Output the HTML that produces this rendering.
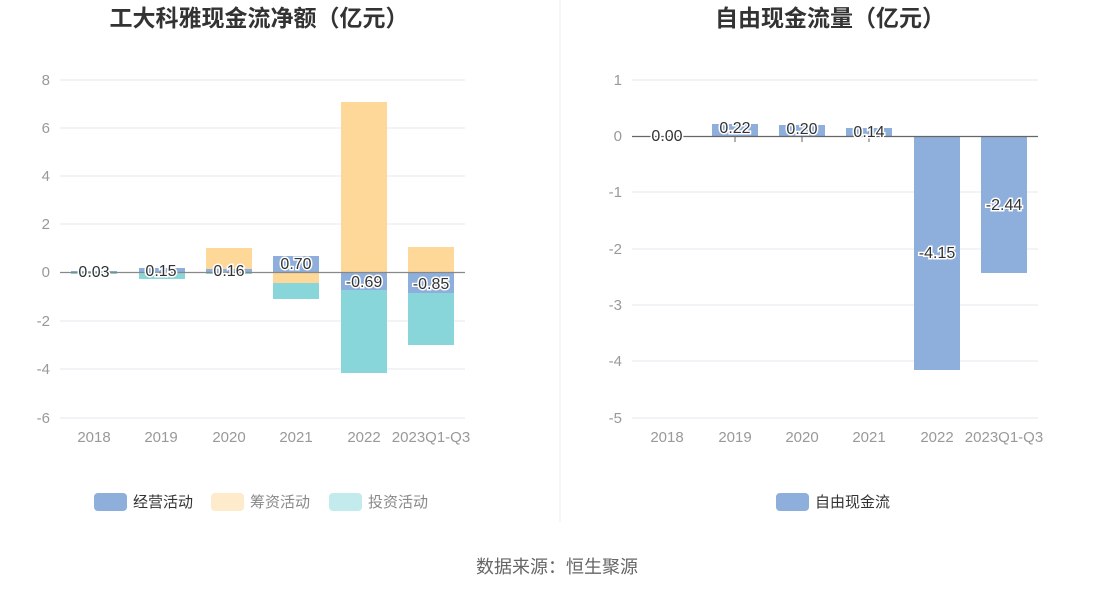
<!DOCTYPE html>
<html><head><meta charset="utf-8"><style>
body{margin:0;background:#fff;}
svg{display:block;font-family:"Liberation Sans","Noto Sans CJK SC",sans-serif;}
.t{font-size:23px;font-weight:bold;fill:#333;}
.ax{font-size:15px;fill:#999;}
.lb{font-size:16px;fill:#333;stroke:#fff;stroke-width:3px;paint-order:stroke;}
.gr{stroke:#e3e7ef;stroke-width:1;}
</style></head><body>
<svg width="1114" height="593" viewBox="0 0 1114 593">
<text class="t" x="259" y="26" text-anchor="middle">工大科雅现金流净额（亿元）</text>
<text class="t" x="830" y="26" text-anchor="middle">自由现金流量（亿元）</text>
<line x1="560" y1="0" x2="560" y2="522" stroke="#eee"/>
<g class="gr">
<line x1="60" y1="80" x2="465" y2="80"/><line x1="60" y1="128" x2="465" y2="128"/>
<line x1="60" y1="176" x2="465" y2="176"/><line x1="60" y1="224" x2="465" y2="224"/>
<line x1="60" y1="321" x2="465" y2="321"/><line x1="60" y1="369" x2="465" y2="369"/>
<line x1="60" y1="418" x2="465" y2="418"/>
</g>
<g class="ax" text-anchor="end">
<text x="50" y="85">8</text><text x="50" y="133">6</text><text x="50" y="181">4</text>
<text x="50" y="229">2</text><text x="50" y="277">0</text><text x="50" y="326">-2</text>
<text x="50" y="374">-4</text><text x="50" y="423">-6</text>
</g>
<g>
<rect x="71" y="271" width="46" height="1.5" fill="#8eaedb"/>
<rect x="71" y="272" width="46" height="2" fill="#88d5da"/>
<rect x="139" y="268" width="46" height="4" fill="#8eaedb"/>
<rect x="139" y="272" width="46" height="7" fill="#88d5da"/>
<rect x="206" y="248" width="46" height="21" fill="#fed898"/>
<rect x="206" y="269" width="46" height="3.5" fill="#8eaedb"/>
<rect x="206" y="272" width="46" height="2" fill="#88d5da"/>
<rect x="273" y="256" width="46" height="16" fill="#8eaedb"/>
<rect x="273" y="272" width="46" height="11" fill="#fed898"/>
<rect x="273" y="283" width="46" height="16" fill="#88d5da"/>
<rect x="341" y="102" width="46" height="170" fill="#fed898"/>
<rect x="341" y="272" width="46" height="18" fill="#8eaedb"/>
<rect x="341" y="290" width="46" height="83" fill="#88d5da"/>
<rect x="408" y="247" width="46" height="25" fill="#fed898"/>
<rect x="408" y="272" width="46" height="21" fill="#8eaedb"/>
<rect x="408" y="293" width="46" height="52" fill="#88d5da"/>
</g>
<line x1="60" y1="272.5" x2="465" y2="272.5" stroke="#888" stroke-width="1.3"/>
<g class="lb" text-anchor="middle">
<text x="94" y="277">0.03</text><text x="161" y="276">0.15</text><text x="229" y="276">0.16</text>
<text x="296" y="269">0.70</text><text x="364" y="287">-0.69</text><text x="431" y="289">-0.85</text>
</g>
<g class="ax" text-anchor="middle">
<text x="94" y="442">2018</text><text x="161" y="442">2019</text><text x="229" y="442">2020</text>
<text x="296" y="442">2021</text><text x="364" y="442">2022</text><text x="431" y="442">2023Q1-Q3</text>
</g>
<rect x="94" y="493" width="33" height="18" rx="4" fill="#8eaedb"/>
<text x="133" y="507" font-size="15" fill="#333">经营活动</text>
<rect x="211" y="493" width="33" height="18" rx="4" fill="#feebcb"/>
<text x="250" y="507" font-size="15" fill="#888">筹资活动</text>
<rect x="329" y="493" width="33" height="18" rx="4" fill="#c3ebed"/>
<text x="368" y="507" font-size="15" fill="#888">投资活动</text>
<g class="gr">
<line x1="632" y1="80" x2="1038" y2="80"/><line x1="632" y1="192" x2="1038" y2="192"/>
<line x1="632" y1="249" x2="1038" y2="249"/><line x1="632" y1="305" x2="1038" y2="305"/>
<line x1="632" y1="361" x2="1038" y2="361"/><line x1="632" y1="418" x2="1038" y2="418"/>
</g>
<g class="ax" text-anchor="end">
<text x="622" y="85">1</text><text x="622" y="141">0</text><text x="622" y="197">-1</text>
<text x="622" y="254">-2</text><text x="622" y="310">-3</text><text x="622" y="366">-4</text>
<text x="622" y="423">-5</text>
</g>
<g fill="#8eaedb">
<rect x="712" y="124" width="46" height="12"/>
<rect x="779" y="125" width="46" height="11"/>
<rect x="846" y="128" width="46" height="8"/>
<rect x="914" y="136" width="46" height="234"/>
<rect x="981" y="136" width="46" height="137"/>
</g>
<line x1="632" y1="136.5" x2="1038" y2="136.5" stroke="#666" stroke-width="1.3"/>
<g stroke="#666"><line x1="735" y1="136" x2="735" y2="142"/><line x1="802" y1="136" x2="802" y2="142"/><line x1="869" y1="136" x2="869" y2="142"/></g>
<g class="lb" text-anchor="middle">
<text x="667" y="141">0.00</text><text x="735" y="133">0.22</text><text x="802" y="134">0.20</text>
<text x="869" y="137">0.14</text><text x="937" y="258">-4.15</text><text x="1004" y="210">-2.44</text>
</g>
<g class="ax" text-anchor="middle">
<text x="667" y="442">2018</text><text x="735" y="442">2019</text><text x="802" y="442">2020</text>
<text x="869" y="442">2021</text><text x="937" y="442">2022</text><text x="1004" y="442">2023Q1-Q3</text>
</g>
<rect x="776" y="493" width="33" height="18" rx="4" fill="#8eaedb"/>
<text x="815" y="507" font-size="15" fill="#333">自由现金流</text>
<text x="557" y="573" text-anchor="middle" font-size="18" fill="#666">数据来源：恒生聚源</text>
</svg>
</body></html>
